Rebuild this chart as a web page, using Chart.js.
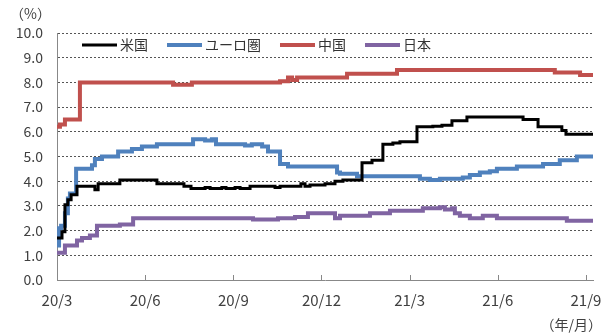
<!DOCTYPE html>
<html>
<head>
<meta charset="utf-8">
<script src="https://cdn.jsdelivr.net/npm/chart.js@4.4.0/dist/chart.umd.min.js"></script>
<style>
  html, body { margin: 0; padding: 0; background: #fff; }
</style>
</head>
<body>
<canvas id="chart" width="613" height="334"></canvas>
<script>
// x = months since 2020/3, y = percent
var tickMonths = [0, 3, 6, 9, 12, 15, 18];
var tickLabels = ['20/3', '20/6', '20/9', '20/12', '21/3', '21/6', '21/9'];
var seriesNames = ['米国', 'ユーロ圏', '中国', '日本'];

var usa = [[0,1.7],[0.17,1.95],[0.27,3.05],[0.37,3.25],[0.48,3.45],[0.68,3.8],[1.29,3.65],[1.4,3.9],
  [2.14,4.05],[3.4,3.9],[4.32,3.8],[4.56,3.7],[5.04,3.75],[5.21,3.7],[5.61,3.75],[5.75,3.7],[6.06,3.75],
  [6.23,3.7],[6.57,3.8],[7.42,3.75],[7.59,3.8],[8.3,3.9],[8.44,3.8],[8.61,3.85],[9.12,3.9],[9.46,4.0],
  [9.73,4.05],[10.38,4.75],[10.72,4.85],[11.09,5.5],[11.43,5.55],[11.67,5.6],[12.25,6.2],[12.79,6.22],
  [13.1,6.27],[13.44,6.45],[13.95,6.6],[15.86,6.5],[16.37,6.2],[17.18,6.05],[17.32,5.9],[18.24,5.9]];

var euro = [[0,1.4],[0.07,2.1],[0.14,2.2],[0.27,2.7],[0.37,3.3],[0.44,3.5],[0.65,4.5],[1.19,4.65],
  [1.29,4.9],[1.53,5.0],[2.08,5.2],[2.55,5.3],[2.89,5.4],[3.4,5.5],[4.63,5.7],[5.04,5.65],[5.27,5.7],
  [5.41,5.5],[6.4,5.45],[6.63,5.5],[6.98,5.4],[7.18,5.2],[7.59,4.7],[7.86,4.6],[9.53,4.35],[9.63,4.3],
  [10.21,4.2],[12.35,4.1],[12.69,4.05],[13.03,4.1],[13.81,4.15],[14.05,4.25],[14.39,4.35],[14.73,4.4],
  [14.97,4.5],[15.65,4.6],[16.54,4.7],[17.11,4.85],[17.69,5.0],[18.24,5.0]];

var china = [[0,6.2],[0.1,6.3],[0.27,6.5],[0.78,8.0],[3.95,7.9],[4.59,8.0],[7.59,8.05],[7.86,8.2],
  [8.0,8.1],[8.17,8.2],[9.87,8.35],[11.57,8.5],[16.94,8.4],[17.8,8.3],[18.24,8.3]];

var japan = [[0,1.1],[0.27,1.4],[0.68,1.6],[0.85,1.7],[1.12,1.8],[1.36,2.2],[2.14,2.25],[2.59,2.5],
  [6.67,2.45],[7.52,2.5],[8.1,2.55],[8.54,2.7],[9.46,2.5],[9.63,2.6],[10.65,2.7],[11.33,2.8],
  [12.45,2.9],[13.03,2.95],[13.2,2.85],[13.44,2.9],[13.54,2.7],[13.71,2.6],[14.05,2.5],[14.49,2.6],
  [14.97,2.5],[17.35,2.4],[18.24,2.4]];

var FONT = '"Noto Sans CJK JP", "Noto Sans", sans-serif';

function makeSet(label, data, color, width) {
  return {
    label: label,
    data: data,
    borderColor: color,
    backgroundColor: color,
    borderWidth: width,
    pointRadius: 0,
    stepped: true,
    fill: false
  };
}

// legend inside the plot + corner captions + inward x ticks
var extras = {
  id: 'extras',
  afterDatasetsDraw: function(chart) {
    var ctx = chart.ctx;
    var area = chart.chartArea;
    var xs = chart.scales.x;
    ctx.save();

    ctx.strokeStyle = '#888';
    ctx.lineWidth = 1;
    tickMonths.forEach(function(m) {
      if (m === 0) return;
      var px = Math.round(xs.getPixelForValue(m)) + 0.5;
      ctx.beginPath();
      ctx.moveTo(px, area.bottom);
      ctx.lineTo(px, area.bottom - 5);
      ctx.stroke();
    });

    ctx.font = '14px ' + FONT;
    ctx.textBaseline = 'middle';
    ctx.fillStyle = '#333';
    var x = area.left + 25;
    var y = area.top + 12;
    chart.data.datasets.forEach(function(ds) {
      ctx.strokeStyle = ds.borderColor;
      ctx.lineWidth = ds.borderWidth;
      ctx.beginPath();
      ctx.moveTo(x, y);
      ctx.lineTo(x + 35, y);
      ctx.stroke();
      ctx.textAlign = 'left';
      ctx.fillText(ds.label, x + 38, y);
      x += 38 + ctx.measureText(ds.label).width + 19;
    });

    ctx.fillStyle = '#404040';
    ctx.textAlign = 'left';
    ctx.fillText('（%）', 10, 14);
    ctx.textAlign = 'right';
    ctx.fillText('（年/月）', 602, 325);
    ctx.restore();
  }
};

new Chart(document.getElementById('chart').getContext('2d'), {
  type: 'line',
  data: {
    datasets: [
      makeSet(seriesNames[0], usa, '#000000', 3),
      makeSet(seriesNames[1], euro, '#4F81BD', 4),
      makeSet(seriesNames[2], china, '#C0504D', 4),
      makeSet(seriesNames[3], japan, '#8064A2', 4)
    ]
  },
  options: {
    responsive: false,
    animation: false,
    devicePixelRatio: 1,
    layout: { padding: { top: 33, right: 20, left: 0, bottom: 0 } },
    plugins: {
      legend: { display: false },
      tooltip: { enabled: false }
    },
    scales: {
      x: {
        type: 'linear',
        min: 0,
        max: 18.24,
        afterFit: function(scale) { scale.height = 54; },
        afterBuildTicks: function(scale) {
          scale.ticks = tickMonths.map(function(v) { return { value: v }; });
        },
        ticks: {
          autoSkip: false,
          maxRotation: 0,
          padding: 11,
          color: '#404040',
          font: { family: FONT, size: 15 },
          callback: function(value) {
            var i = tickMonths.indexOf(value);
            return i >= 0 ? tickLabels[i] : '';
          }
        },
        grid: { display: false, drawTicks: false },
        border: { display: true, color: '#888', width: 1 }
      },
      y: {
        min: 0,
        max: 10,
        afterFit: function(scale) { scale.width = 57; },
        ticks: {
          stepSize: 1,
          padding: 14,
          color: '#404040',
          font: { family: FONT, size: 14 },
          callback: function(value) { return value.toFixed(1); }
        },
        grid: { color: '#555', lineWidth: 1, drawTicks: false },
        border: { display: true, color: '#888', width: 1, dash: [2, 2] }
      }
    }
  },
  plugins: [extras]
});
</script>
</body>
</html>
